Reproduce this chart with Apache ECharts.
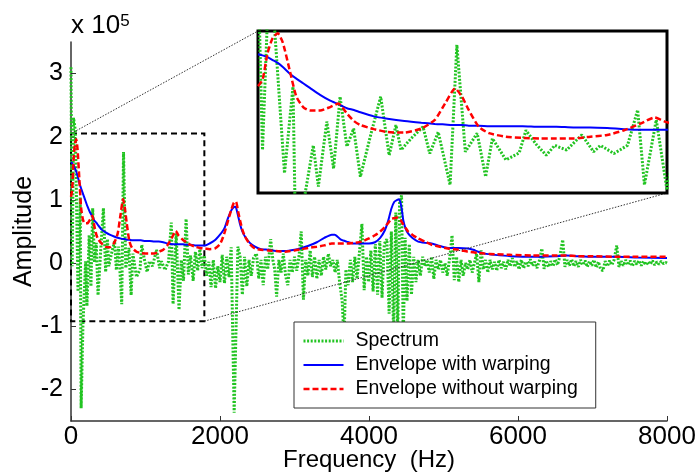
<!DOCTYPE html>
<html>
<head>
<meta charset="utf-8">
<script src="https://cdn.jsdelivr.net/npm/echarts@6/dist/echarts.min.js"></script>
<style>
  html, body { margin: 0; padding: 0; background: #fff; }
  #chart { width: 699px; height: 474px; }
</style>
</head>
<body>
<div id="chart"></div>
<script>
// Axis ticks
const xTicks = [0, 2000, 4000, 6000, 8000];
const yTicks = [-2, -1, 0, 1, 2, 3];

// Spectrum: [frequency (Hz), amplitude (x 1e5)]
const spectrum = [
  [0, 3.1], [16, -0.05], [34, 2.3], [58, 2.1], [94, -0.45], [124, 1.04], [136, -2.3], [160, -1.0],
  [196, 0.03], [214, -0.68], [244, 0.44], [268, -0.37], [291, 0.87], [315, 0.01], [339, 0.32],
  [363, -0.51], [399, 0.2], [435, 0.87], [465, -0.14], [489, 0.38], [507, -0.05], [543, 0.15],
  [585, 0.35], [609, -0.11], [639, 0.26], [681, -0.65], [705, 1.76], [735, -0.08], [777, 0.24],
  [807, -0.51], [831, 0.15], [879, -0.22], [926, -0.1], [950, 0.29], [986, 0.05], [1022, -0.14],
  [1052, 0.03], [1094, -0.05], [1148, 0.21], [1190, -0.08], [1214, 0.03], [1262, -0.11],
  [1310, 0.03], [1346, 0.64], [1370, -0.65], [1412, 0.47], [1450, -0.74], [1480, 0.05],
  [1510, -0.28], [1545, 0.7], [1575, -0.18], [1605, 0.12], [1640, -0.28], [1670, 0.18],
  [1700, -0.12], [1730, 0.22], [1760, -0.08], [1790, 0.12], [1820, -0.2], [1850, 0.02],
  [1880, -0.38], [1910, 0.05], [1940, -0.4], [1970, -0.05], [2000, -0.3], [2030, 0.13],
  [2060, -0.32], [2090, 0.1], [2120, -0.22], [2150, 0.25], [2190, -2.37], [2240, 0.26],
  [2270, 0.1], [2300, -0.5], [2330, 0.1], [2360, -0.37], [2390, 0.05], [2420, -0.2], [2450, 0.08],
  [2490, 0.15], [2520, -0.25], [2550, 0.05], [2580, -0.35], [2610, 0.1], [2640, -0.1], [2680, 0.38],
  [2710, 0.05], [2735, -0.1], [2760, -0.53], [2790, 0.05], [2820, -0.15], [2850, 0.15],
  [2880, -0.2], [2910, -0.35], [2940, 0.05], [2970, -0.15], [3000, 0.1], [3030, -0.12],
  [3060, 0.1], [3090, 0.5], [3120, -0.58], [3150, 0.05], [3180, -0.2], [3210, 0.2], [3240, -0.22],
  [3270, 0.1], [3300, -0.25], [3330, 0.05], [3360, -0.2], [3390, 0.1], [3420, -0.1], [3455, 0.15],
  [3485, -0.05], [3515, 0.05], [3545, -0.15], [3575, 0.05], [3605, -0.3], [3640, -0.6],
  [3665, -1.2], [3690, -0.1], [3720, -0.35], [3750, 0.05], [3780, -0.3], [3810, 0.1], [3840, -0.25],
  [3870, 0.15], [3905, 0.62], [3935, -0.43], [3965, 0.1], [3995, -0.3], [4025, 0.2], [4055, -0.45],
  [4085, 0.3], [4115, -0.5], [4145, 0.35], [4175, -0.55], [4205, 0.3], [4240, 0.38], [4270, -0.8],
  [4300, 0.5], [4330, -1.1], [4360, 0.8], [4385, -1.2], [4410, 0.95], [4437, 1.07], [4460, -1.2],
  [4485, 0.4], [4510, -0.6], [4540, 0.3], [4570, -0.5], [4600, 0.1], [4630, -0.3], [4660, 0.05],
  [4690, -0.2], [4720, 0.1], [4750, -0.05], [4780, 0.05], [4810, -0.15], [4840, 0.1], [4870, -0.25],
  [4900, 0.05], [4930, -0.1], [4960, 0.05], [4990, -0.15], [5020, 0.0], [5050, -0.2], [5085, 0.1],
  [5115, 0.44], [5145, -0.27], [5175, 0.1], [5205, -0.3], [5235, 0.05], [5265, -0.2], [5295, 0.0],
  [5325, -0.1], [5355, 0.05], [5385, -0.15], [5415, 0.0], [5445, 0.15], [5475, -0.3], [5505, 0.2],
  [5535, -0.1], [5565, 0.05], [5595, -0.15], [5625, 0.05], [5655, -0.1], [5685, 0.02],
  [5715, -0.12], [5745, 0.05], [5775, -0.08], [5805, 0.02], [5835, -0.1], [5865, 0.05],
  [5895, -0.05], [5925, 0.08], [5955, -0.06], [5985, 0.03], [6015, -0.1], [6045, 0.05],
  [6075, -0.08], [6105, 0.02], [6135, -0.05], [6165, 0.06], [6195, -0.04], [6225, 0.02],
  [6255, -0.08], [6290, 0.05], [6320, 0.23], [6350, -0.09], [6380, 0.04], [6410, -0.06],
  [6440, 0.03], [6470, -0.05], [6500, 0.06], [6530, -0.03], [6560, 0.1], [6600, 0.37],
  [6630, -0.06], [6660, 0.05], [6690, -0.04], [6720, 0.06], [6750, -0.05], [6780, 0.03],
  [6810, -0.06], [6840, 0.05], [6870, -0.03], [6900, 0.04], [6930, -0.06], [6960, 0.03],
  [6990, -0.04], [7020, 0.05], [7050, -0.07], [7080, 0.02], [7110, -0.1], [7140, -0.12],
  [7170, 0.03], [7200, -0.05], [7230, 0.04], [7260, -0.03], [7290, 0.05], [7325, 0.28],
  [7355, -0.06], [7385, 0.03], [7415, -0.04], [7445, 0.05], [7475, -0.03], [7505, 0.04],
  [7535, -0.05], [7565, 0.03], [7595, -0.02], [7625, 0.04], [7655, -0.04], [7685, 0.03],
  [7715, -0.03], [7745, 0.02], [7775, -0.02], [7805, 0.04], [7835, -0.03], [7865, 0.02],
  [7895, -0.02], [7925, 0.03], [7955, -0.01], [7985, 0.01], [8000, 0.0]
];

// Spectral envelopes sampled on a shared frequency grid
const envHz = [
  0, 16, 34, 52, 70, 88, 112, 136, 160, 184, 220, 256, 285, 315, 340, 363, 411, 459, 519, 579,
  627, 663, 699, 723, 747, 783, 819, 879, 938, 998, 1058, 1118, 1178, 1238, 1298, 1358, 1406,
  1442, 1500, 1550, 1600, 1664, 1730, 1800, 1860, 1930, 2000, 2044, 2066, 2110, 2150, 2180,
  2200, 2215, 2246, 2268, 2300, 2335, 2400, 2470, 2550, 2648, 2750, 2872, 3000, 3100, 3180,
  3300, 3400, 3500, 3540, 3623, 3700, 3800, 3900, 4000, 4080, 4150, 4213, 4260, 4300, 4340,
  4380, 4400, 4420, 4440, 4460, 4490, 4525, 4580, 4660, 4750, 4840, 4950, 5060, 5200, 5330,
  5400, 5465, 5550, 5690, 5900, 6200, 6500, 6650, 6800, 7000, 7300, 7600, 8000
];
const envWarped = [
  1.6, 1.58, 1.55, 1.5, 1.45, 1.38, 1.27, 1.18, 1.1, 1.02, 0.9, 0.8, 0.74, 0.67, 0.64, 0.6, 0.53,
  0.49, 0.45, 0.42, 0.4, 0.39, 0.38, 0.38, 0.37, 0.37, 0.36, 0.36, 0.36, 0.35, 0.35, 0.34, 0.34,
  0.33, 0.31, 0.3, 0.3, 0.3, 0.3, 0.29, 0.29, 0.28, 0.28, 0.28, 0.31, 0.36, 0.45, 0.52, 0.57,
  0.72, 0.83, 0.88, 0.89, 0.88, 0.73, 0.62, 0.5, 0.42, 0.32, 0.26, 0.22, 0.21, 0.19, 0.19, 0.21,
  0.24, 0.27, 0.33, 0.4, 0.45, 0.45, 0.37, 0.34, 0.31, 0.31, 0.31, 0.33, 0.4, 0.52, 0.68, 0.86,
  0.97, 1.0, 1.01, 0.97, 0.85, 0.68, 0.55, 0.47, 0.4, 0.34, 0.32, 0.31, 0.27, 0.24, 0.24, 0.23,
  0.21, 0.18, 0.15, 0.13, 0.11, 0.1, 0.11, 0.12, 0.11, 0.1, 0.1, 0.09, 0.08
];
const envPlain = [
  1.05, 1.16, 1.62, 1.88, 1.96, 1.8, 1.33, 0.87, 0.69, 0.63, 0.63, 0.69, 0.75, 0.58, 0.45, 0.38,
  0.31, 0.26, 0.25, 0.32, 0.47, 0.75, 1.01, 0.87, 0.64, 0.35, 0.24, 0.18, 0.16, 0.15, 0.15, 0.15,
  0.18, 0.21, 0.29, 0.41, 0.51, 0.44, 0.37, 0.33, 0.29, 0.26, 0.24, 0.23, 0.22, 0.23, 0.3, 0.42,
  0.5, 0.68, 0.84, 0.94, 0.97, 0.97, 0.8, 0.68, 0.53, 0.42, 0.3, 0.23, 0.21, 0.2, 0.19, 0.18,
  0.2, 0.22, 0.24, 0.26, 0.28, 0.31, 0.31, 0.31, 0.31, 0.32, 0.34, 0.39, 0.44, 0.5, 0.57, 0.64,
  0.7, 0.71, 0.72, 0.71, 0.69, 0.65, 0.61, 0.56, 0.5, 0.45, 0.39, 0.34, 0.29, 0.26, 0.23, 0.21,
  0.18, 0.17, 0.16, 0.15, 0.14, 0.13, 0.12, 0.12, 0.12, 0.11, 0.11, 0.1, 0.1, 0.1
];

// Highlighted low-frequency region and the magnified view shown in the inset
const zoomBoxHz = [0, 1790];
const zoomBoxAmp = [-0.92, 2.05];
const insetHz = [0, 1450];
const insetAmp = [-0.79, 2.0];

const FONT = "'Liberation Sans', Arial, Helvetica, sans-serif";
const GREEN = '#22c422';
const BLUE = '#0000ff';
const RED = '#ff0000';

const warpedPts = envHz.map((f, i) => [f, envWarped[i]]);
const plainPts = envHz.map((f, i) => [f, envPlain[i]]);

function makeSeries(idx) {
  const base = { type: 'line', xAxisIndex: idx, yAxisIndex: idx, symbol: 'none', clip: true, animation: false, z: idx ? 6 : 2 };
  return [
    Object.assign({}, base, {
      name: 'Spectrum', data: spectrum,
      lineStyle: { color: GREEN, width: 3, type: [2, 1.6], cap: 'butt' },
      itemStyle: { color: GREEN }
    }),
    Object.assign({}, base, {
      name: 'Envelope with warping', data: warpedPts, smooth: 0.2,
      lineStyle: { color: BLUE, width: 2 }, itemStyle: { color: BLUE }
    }),
    Object.assign({}, base, {
      name: 'Envelope without warping', data: plainPts, smooth: 0.2,
      lineStyle: { color: RED, width: 2.5, type: [6, 3] }, itemStyle: { color: RED }
    })
  ];
}

const mainSeries = makeSeries(0);
mainSeries[0].markArea = {
  silent: true,
  itemStyle: { color: 'rgba(0,0,0,0)', borderColor: '#000', borderWidth: 2, borderType: [6, 4] },
  data: [[{ coord: [zoomBoxHz[0], zoomBoxAmp[1]] }, { coord: [zoomBoxHz[1], zoomBoxAmp[0]] }]]
};

const chart = echarts.init(document.getElementById('chart'), null, { renderer: 'canvas' });

chart.setOption({
  animation: false,
  backgroundColor: '#fff',
  textStyle: { fontFamily: FONT },
  title: {
    text: 'x 10{s|5}',
    left: 66, top: 8,
    textStyle: {
      fontSize: 26, fontWeight: 'normal', color: '#000', fontFamily: FONT,
      rich: { s: { fontSize: 17, verticalAlign: 'top', color: '#000', fontFamily: FONT } }
    }
  },
  grid: [
    { left: 71, top: 42, width: 596, height: 379, containLabel: false, outerBoundsMode: 'none' },
    { left: 258, top: 31, width: 409, height: 162, show: true, backgroundColor: '#fff', borderColor: '#000', borderWidth: 3, z: 5, outerBoundsMode: 'none' }
  ],
  xAxis: [
    {
      type: 'value', gridIndex: 0, min: xTicks[0], max: xTicks[xTicks.length - 1], interval: 2000,
      name: 'Frequency  (Hz)', nameLocation: 'middle', nameGap: 27, nameMoveOverlap: false,
      nameTextStyle: { fontSize: 24, color: '#000', fontFamily: FONT },
      axisLine: { onZero: false, lineStyle: { color: '#333', width: 1.5 } },
      axisTick: { inside: true, length: 5, lineStyle: { color: '#333' } },
      axisLabel: { fontSize: 26, color: '#000', margin: 3, fontFamily: FONT, formatter: v => String(v) },
      splitLine: { show: false }
    },
    { type: 'value', gridIndex: 1, min: insetHz[0], max: insetHz[1], show: false, splitLine: { show: false } }
  ],
  yAxis: [
    {
      type: 'value', gridIndex: 0, min: -2.5, max: 3.5,
      name: 'Amplitude', nameLocation: 'middle', nameGap: 34, nameMoveOverlap: false,
      nameTextStyle: { fontSize: 25, color: '#000', fontFamily: FONT },
      axisLine: { show: true, onZero: false, lineStyle: { color: '#333', width: 1.5 } },
      axisTick: { show: true, inside: true, length: 5, lineStyle: { color: '#333' }, customValues: yTicks },
      axisLabel: { fontSize: 25, color: '#000', margin: 8, fontFamily: FONT, customValues: yTicks },
      splitLine: { show: false }
    },
    { type: 'value', gridIndex: 1, min: insetAmp[0], max: insetAmp[1], show: false, splitLine: { show: false } }
  ],
  legend: {
    orient: 'vertical', left: 294, top: 322,
    data: ['Spectrum', 'Envelope with warping', 'Envelope without warping'],
    itemWidth: 40, itemHeight: 14, itemGap: 4,
    padding: [9, 18, 9, 8],
    backgroundColor: '#fff', borderColor: '#333', borderWidth: 1,
    itemStyle: { opacity: 0 },
    lineStyle: { width: 'inherit' },
    textStyle: { fontSize: 19.5, color: '#000', fontFamily: FONT, padding: [0, 0, 0, 7] },
    selectedMode: false,
    z: 10
  },
  series: mainSeries.concat(makeSeries(1))
});

// Thin dotted leader lines joining the dashed region to the inset frame
const a = chart.convertToPixel({ gridIndex: 0 }, [zoomBoxHz[0], zoomBoxAmp[1]]);
const b = chart.convertToPixel({ gridIndex: 1 }, [insetHz[0], insetAmp[1]]);
const c = chart.convertToPixel({ gridIndex: 0 }, [zoomBoxHz[1], zoomBoxAmp[0]]);
const d = chart.convertToPixel({ gridIndex: 1 }, [insetHz[1], insetAmp[0]]);
const leader = { stroke: '#333', lineWidth: 1, lineDash: [1.5, 1.5] };
chart.setOption({
  graphic: [
    { type: 'line', silent: true, z: 3, shape: { x1: a[0], y1: a[1], x2: b[0], y2: b[1] }, style: leader },
    { type: 'line', silent: true, z: 3, shape: { x1: c[0], y1: c[1], x2: d[0], y2: d[1] }, style: leader }
  ]
});
</script>
</body>
</html>
